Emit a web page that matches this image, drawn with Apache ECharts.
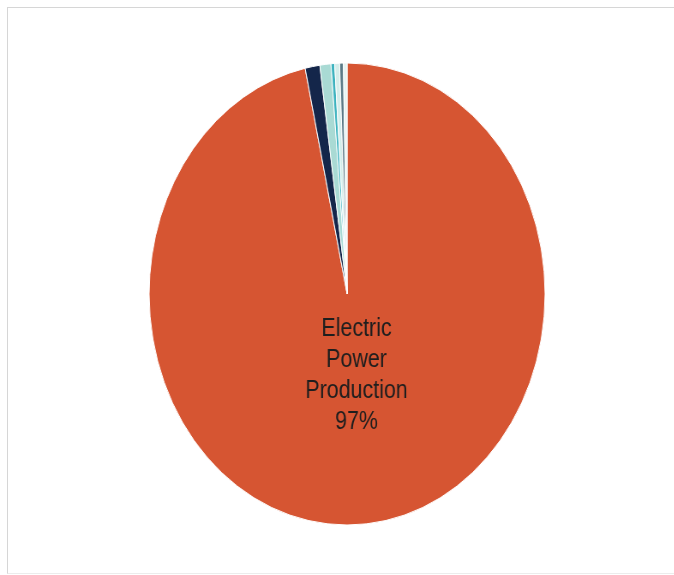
<!DOCTYPE html>
<html>
<head>
<meta charset="utf-8">
<script src="https://cdn.jsdelivr.net/npm/echarts@6/dist/echarts.min.js"></script>
<style>
html,body{margin:0;padding:0;background:#fff;width:674px;height:575px;overflow:hidden;}
#frame{position:absolute;left:7px;top:7px;width:680px;height:565px;border-top:1px solid #d6d6d6;border-left:1px solid #d6d6d6;border-bottom:1px solid #ececec;}
#chart{position:absolute;left:0;top:0;width:786px;height:575px;transform:scale(0.857,1);transform-origin:0 0;}
</style>
</head>
<body>
<div id="frame"></div>
<div id="chart"></div>
<script>
const categories = ['Electric Power Production','Category 2','Category 3','Category 4','Category 5','Category 6','Category 7'];
const values = [96.6, 1.2, 0.9, 0.3, 0.4, 0.3, 0.3];
const colors = ['#D65532','#14264A','#A9DAD4','#3DB3BF','#D3EDEA','#5B7A86','#E6F4F2'];

const chart = echarts.init(document.getElementById('chart'), null, {renderer:'canvas'});
const data = categories.map((c,i)=>({
  name:c,
  value:values[i],
  itemStyle:{color:colors[i]},
  label:{show:i===0}
}));
chart.setOption({
  animation:false,
  series:[{
    type:'pie',
    center:[405,294],
    radius:[0,231],
    startAngle:90,
    clockwise:true,
    avoidLabelOverlap:false,
    labelLine:{show:false},
    itemStyle:{borderColor:'#ffffff',borderWidth:1},
    label:{
      position:'center',
      offset:[11,82],
      formatter:function(p){return 'Electric\nPower\nProduction\n'+Math.round(p.percent)+'%';},
      fontFamily:'Liberation Sans, Arial, sans-serif',
      fontSize:25,
      lineHeight:31,
      color:'#1e1e1e'
    },
    emphasis:{disabled:true},
    data:data
  }]
});
</script>
</body>
</html>
